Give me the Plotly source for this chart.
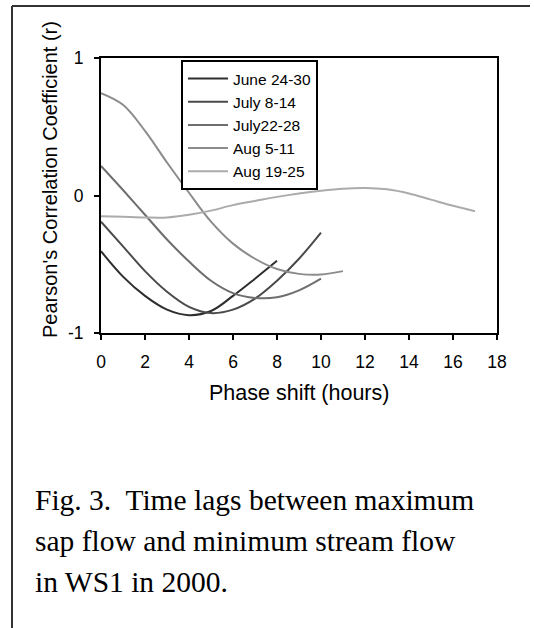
import plotly.graph_objects as go

# ---- data ----
series_names = ["June 24-30", "July 8-14", "July22-28", "Aug 5-11", "Aug 19-25"]
series_colors = ["#2e2e2e", "#4a4a4a", "#6e6e6e", "#8c8c8c", "#ababab"]

june_x = [0, 1, 2, 3, 4, 5, 6, 7, 8]
june_y = [-0.405, -0.59, -0.73, -0.83, -0.87, -0.84, -0.73, -0.605, -0.475]

july8_x = [0, 1, 2, 3, 4, 5, 6, 7, 8, 9, 10]
july8_y = [-0.19, -0.37, -0.55, -0.70, -0.81, -0.855, -0.83, -0.75, -0.62, -0.46, -0.27]

july22_x = [0, 1, 2, 3, 4, 5, 6, 7, 8, 9, 10]
july22_y = [0.215, 0.04, -0.14, -0.32, -0.48, -0.62, -0.71, -0.745, -0.74, -0.69, -0.605]

aug5_x = [0, 1, 2, 3, 4, 5, 6, 7, 8, 9, 10, 11]
aug5_y = [0.745, 0.66, 0.47, 0.24, 0.02, -0.19, -0.35, -0.46, -0.535, -0.57, -0.575, -0.55]

aug19_x = [0, 1, 2, 3, 4, 5, 6, 7, 8, 9, 10, 11, 12, 13, 14, 15, 16, 17]
aug19_y = [-0.15, -0.155, -0.16, -0.16, -0.14, -0.11, -0.07, -0.04, -0.01, 0.015,
           0.035, 0.05, 0.055, 0.045, 0.015, -0.03, -0.075, -0.115]

x_ticks = [0, 2, 4, 6, 8, 10, 12, 14, 16, 18]
y_ticks = [-1, 0, 1]

x_title = "Phase shift (hours)"
y_title = "Pearson's Correlation Coefficient (r)"
caption_lines = ["Fig. 3.\u00a0 Time lags between maximum",
                 "sap flow and minimum stream flow",
                 "in WS1 in 2000."]

SANS = "Arial, 'Liberation Sans', sans-serif"
SERIF = "'Times New Roman', 'Liberation Serif', serif"

W, H = 534, 628
L, R, T, B = 101, 37, 58, 295
PW, PH = W - L - R, H - T - B


def px_x(p):
    return (p - L) / PW


def px_y(p):
    return (H - B - p) / PH


fig = go.Figure()
all_x = [june_x, july8_x, july22_x, aug5_x, aug19_x]
all_y = [june_y, july8_y, july22_y, aug5_y, aug19_y]
for name, color, xs, ys in zip(series_names, series_colors, all_x, all_y):
    fig.add_trace(go.Scatter(x=xs, y=ys, mode="lines", name=name,
                             line=dict(color=color, width=2, shape="spline", smoothing=1.0)))

fig.update_layout(
    width=W, height=H,
    margin=dict(l=L, r=R, t=T, b=B),
    paper_bgcolor="white", plot_bgcolor="white",
    font=dict(family=SANS, color="black", size=16),
    showlegend=True,
    legend=dict(x=px_x(181), y=px_y(60), xanchor="left", yanchor="top",
                bgcolor="white", bordercolor="black", borderwidth=2,
                font=dict(family=SANS, size=15.5, color="black"),
                tracegroupgap=0, itemwidth=40,
                entrywidth=98, entrywidthmode="pixels"),
    xaxis=dict(range=[0, 18], tickvals=x_ticks, ticktext=[str(v) for v in x_ticks],
               showline=True, linecolor="black", linewidth=2, mirror=True,
               ticks="outside", ticklen=5, tickwidth=2, tickcolor="black",
               ticklabelstandoff=7,
               showgrid=False, zeroline=False,
               tickfont=dict(family=SANS, size=17.5, color="black")),
    yaxis=dict(range=[-1, 1], tickvals=y_ticks, ticktext=[str(v) for v in y_ticks],
               showline=True, linecolor="black", linewidth=2, mirror=True,
               ticks="outside", ticklen=5, tickwidth=2, tickcolor="black",
               ticklabelstandoff=7,
               showgrid=False, zeroline=False,
               tickfont=dict(family=SANS, size=17.5, color="black")),
)

annotations = [
    dict(text=x_title, xref="paper", yref="paper", x=0.5, y=px_y(393),
         xanchor="center", yanchor="middle", showarrow=False,
         font=dict(family=SANS, size=21.5, color="black")),
    dict(text=y_title, xref="paper", yref="paper", x=px_x(50), y=px_y(180),
         xanchor="center", yanchor="middle", showarrow=False, textangle=-90,
         font=dict(family=SANS, size=20, color="black")),
]
for i, (line, mid) in enumerate(zip(caption_lines, [500, 541, 582])):
    annotations.append(dict(text=line, xref="paper", yref="paper", x=px_x(33), y=px_y(mid),
                            xanchor="left", yanchor="middle", showarrow=False,
                            font=dict(family=SERIF, size=29.5, color="black")))
fig.update_layout(annotations=annotations)

# outer frame (top and left edges)
fig.add_shape(type="line", xref="paper", yref="paper",
              x0=px_x(12), x1=px_x(12), y0=px_y(6), y1=px_y(640),
              line=dict(color="#333333", width=2))
fig.add_shape(type="line", xref="paper", yref="paper",
              x0=px_x(12), x1=px_x(530), y0=px_y(6), y1=px_y(6),
              line=dict(color="#333333", width=2))

fig.write_html("out.html", config={"displayModeBar": False},
               post_script="document.body.style.margin='0px';")
